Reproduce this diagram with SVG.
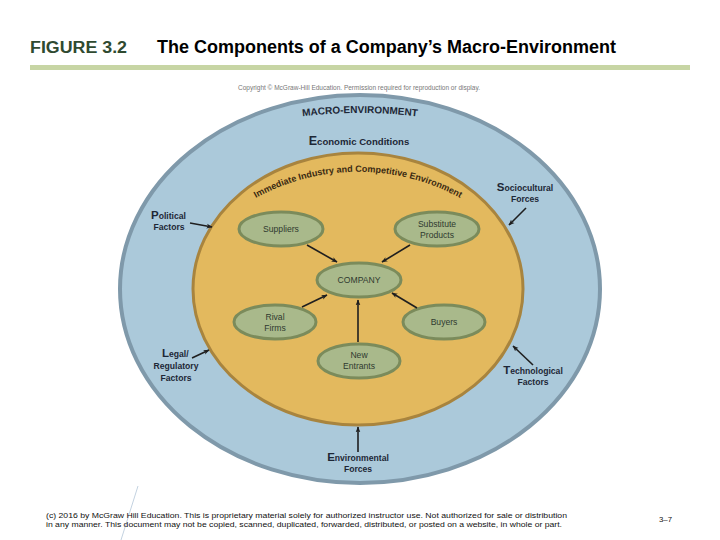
<svg xmlns="http://www.w3.org/2000/svg" width="720" height="540" viewBox="0 0 720 540">
<style>
.hdr{font-family:"Liberation Sans",Arial,sans-serif;font-weight:bold}
.lbl{font-family:"Liberation Sans",Arial,sans-serif;font-weight:bold;font-size:8.6px;fill:#1d2736}
.big{font-size:11.5px}
.node ellipse{fill:#a9b98b;stroke:#7b8b5b;stroke-width:3}
.ntx{font-family:"Liberation Sans",Arial,sans-serif;font-size:8.6px;fill:#2f3a2f;text-anchor:middle}
.arr{stroke:#1f1f1f;stroke-width:1.6;fill:none;marker-end:url(#ah)}
.foot{font-family:"Liberation Sans",Arial,sans-serif;font-size:7.8px;fill:#111}
</style>
<defs>
<marker id="ah" viewBox="0 0 10 10" refX="9" refY="5" markerWidth="6" markerHeight="6" orient="auto" markerUnits="userSpaceOnUse">
<path d="M0,1 L10,5 L0,9 L2.5,5 z" fill="#1f1f1f"/>
</marker>
<path id="macroArc" d="M 290 118 Q 360 108 430 118"/>
<path id="iceArc" d="M 208 234 A 212 212 0 0 1 508 234"/>
</defs>
<rect width="720" height="540" fill="#ffffff"/>

<g id="header">
<text class="hdr" x="30" y="53" font-size="16" fill="#2f4a30" textLength="97" lengthAdjust="spacingAndGlyphs">FIGURE 3.2</text>
<text class="hdr" x="157" y="53" font-size="17.5" fill="#000" textLength="459" lengthAdjust="spacingAndGlyphs">The Components of a Company’s Macro-Environment</text>
<rect x="30" y="65" width="660" height="5" fill="#c7d5a4"/>
<text x="359" y="90" font-family="Liberation Sans,Arial,sans-serif" font-size="6.5" fill="#777" text-anchor="middle">Copyright © McGraw-Hill Education. Permission required for reproduction or display.</text>
</g>

<g id="macro">
<ellipse cx="360" cy="289" rx="240" ry="194" fill="#abc9da" stroke="#7f99aa" stroke-width="4"/>
<text class="lbl" style="font-size:10px"><textPath href="#macroArc" startOffset="50%" text-anchor="middle">MACRO-ENVIRONMENT</textPath></text>
<text class="lbl" x="359" y="145" text-anchor="middle" style="font-size:9.6px"><tspan style="font-size:12.5px">E</tspan>conomic Conditions</text>
</g>

<g id="industry">
<ellipse cx="358" cy="289" rx="165" ry="136" fill="#e3b95e" stroke="#a8843e" stroke-width="3"/>
<text class="lbl" style="font-size:9px;fill:#3a2a12"><textPath href="#iceArc" startOffset="50%" text-anchor="middle">Immediate Industry and Competitive Environment</textPath></text>
</g>

<g id="suppliers" class="node"><ellipse cx="281" cy="229" rx="42" ry="17"/><text class="ntx" x="281" y="232">Suppliers</text></g>
<g id="substitute" class="node"><ellipse cx="437" cy="229" rx="42" ry="17"/><text class="ntx" x="437" y="227">Substitute</text><text class="ntx" x="437" y="238">Products</text></g>
<g id="company" class="node"><ellipse cx="359" cy="280" rx="42" ry="17"/><text class="ntx" x="359" y="283">COMPANY</text></g>
<g id="rival" class="node"><ellipse cx="275" cy="322" rx="41" ry="17"/><text class="ntx" x="275" y="320">Rival</text><text class="ntx" x="275" y="331">Firms</text></g>
<g id="buyers" class="node"><ellipse cx="444" cy="322" rx="41" ry="17"/><text class="ntx" x="444" y="325">Buyers</text></g>
<g id="entrants" class="node"><ellipse cx="359" cy="361" rx="41" ry="17"/><text class="ntx" x="359" y="358">New</text><text class="ntx" x="359" y="369">Entrants</text></g>

<g id="political"><text class="lbl" x="151" y="219"><tspan class="big">P</tspan>olitical</text><text class="lbl" x="169" y="230" text-anchor="middle">Factors</text></g>
<g id="sociocultural"><text class="lbl" x="525" y="191" text-anchor="middle"><tspan class="big">S</tspan>ociocultural</text><text class="lbl" x="525" y="202" text-anchor="middle">Forces</text></g>
<g id="legal"><text class="lbl" x="162" y="357"><tspan class="big">L</tspan>egal/</text><text class="lbl" x="176" y="369" text-anchor="middle">Regulatory</text><text class="lbl" x="176" y="381" text-anchor="middle">Factors</text></g>
<g id="technological"><text class="lbl" x="533" y="374" text-anchor="middle"><tspan class="big">T</tspan>echnological</text><text class="lbl" x="533" y="385" text-anchor="middle">Factors</text></g>
<g id="environmental"><text class="lbl" x="358" y="461" text-anchor="middle"><tspan class="big">E</tspan>nvironmental</text><text class="lbl" x="358" y="472" text-anchor="middle">Forces</text></g>

<g id="connectors">
<path class="arr" d="M307 245 L337 262"/>
<path class="arr" d="M410 245 L382 262"/>
<path class="arr" d="M302 307 L327 295"/>
<path class="arr" d="M417 308 L392 293"/>
<path class="arr" d="M358 342 L358 300"/>
<path class="arr" d="M190 223 L212 227"/>
<path class="arr" d="M526 208 L509 225"/>
<path class="arr" d="M192 358 L209 350"/>
<path class="arr" d="M533 365 L513 346"/>
<path class="arr" d="M358 452 L358 427"/>
</g>

<g id="footer">
<line x1="138" y1="486" x2="121" y2="540" stroke="#c3d2e0" stroke-width="1"/>
<text class="foot" x="46" y="518" textLength="521" lengthAdjust="spacingAndGlyphs">(c) 2016 by McGraw Hill Education. This is proprietary material solely for authorized instructor use. Not authorized for sale or distribution</text>
<text class="foot" x="46" y="527" textLength="516" lengthAdjust="spacingAndGlyphs">in any manner. This document may not be copied, scanned, duplicated, forwarded, distributed, or posted on a website, in whole or part.</text>
<text class="foot" x="659" y="522">3–7</text>
</g>
</svg>
